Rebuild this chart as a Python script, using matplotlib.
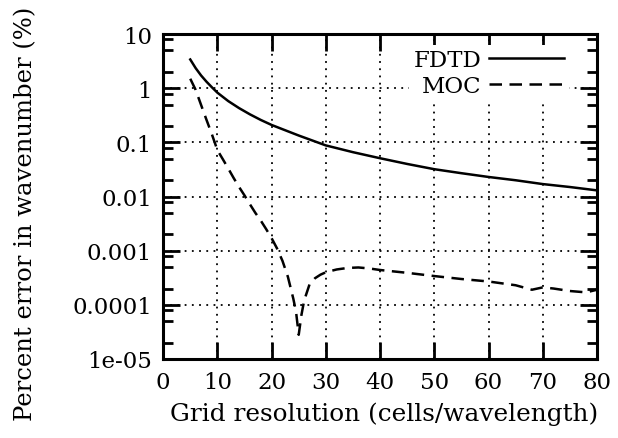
import numpy as np
import matplotlib
matplotlib.use('Agg')
import matplotlib.pyplot as plt
from matplotlib.ticker import LogLocator, NullFormatter, FixedLocator, FixedFormatter

# grid resolution (cells/wavelength) and percent error
fdtd_x = [5, 6, 7, 8, 9, 10, 12, 14, 16, 18, 20, 25, 30, 35, 40, 45, 50, 55, 60, 65, 70, 75, 80]
fdtd_y = [3.4, 2.35, 1.72, 1.32, 1.04, 0.83, 0.58, 0.43, 0.33, 0.26, 0.21, 0.134, 0.088,
          0.066, 0.051, 0.040, 0.032, 0.027, 0.023, 0.020, 0.017, 0.015, 0.013]

moc_x = [5, 6, 7, 8, 9, 10, 11, 12, 13, 14, 15, 16, 17, 18, 19, 20, 21, 22, 23, 24, 24.5,
         25, 25.5, 26, 27, 28, 29, 30, 32, 34, 36, 38, 40, 45, 50, 55, 60, 65, 68, 70,
         72, 75, 78, 80]
moc_y = [1.5, 0.93, 0.49, 0.26, 0.14, 0.072, 0.049, 0.033, 0.022, 0.015, 0.0105, 0.0072,
         0.0050, 0.0036, 0.0025, 0.0017, 0.0011, 0.00065, 0.00033, 0.00013, 7.5e-5,
         2.8e-5, 6.5e-5, 0.00012, 0.00024, 0.00031, 0.00036, 0.00040, 0.00045, 0.00048,
         0.00049, 0.00047, 0.00044, 0.00039, 0.00034, 0.00030, 0.00027, 0.00023, 0.00019,
         0.00021, 0.00020, 0.00018, 0.00017, 0.00019]

xticks = [0, 10, 20, 30, 40, 50, 60, 70, 80]
yticks = [1e-5, 1e-4, 1e-3, 1e-2, 1e-1, 1, 10]
ytick_labels = ['1e-05', '0.0001', '0.001', '0.01', '0.1', '1', '10']

plt.rcParams['font.family'] = ['DejaVu Serif']
plt.rcParams['font.size'] = 16.5

fig = plt.figure(figsize=(6.18, 4.39), dpi=100)
ax = fig.add_axes([0.264, 0.180, 0.702, 0.740])

ax.plot(fdtd_x, fdtd_y, color='black', linewidth=1.8, label='FDTD')
ax.plot(moc_x, moc_y, color='black', linewidth=1.8, linestyle=(0, (5, 3)), label='MOC')

ax.set_yscale('log')
ax.set_xlim(0, 80)
ax.set_ylim(1e-5, 10)

ax.xaxis.set_major_locator(FixedLocator(xticks))
ax.yaxis.set_major_locator(FixedLocator(yticks))
ax.yaxis.set_major_formatter(FixedFormatter(ytick_labels))
ax.yaxis.set_minor_locator(LogLocator(base=10, subs=(2, 5, 8)))
ax.yaxis.set_minor_formatter(NullFormatter())

ax.tick_params(which='major', direction='in', length=12, width=2,
               top=True, right=True, pad=8)
ax.tick_params(which='minor', direction='in', length=7, width=2,
               left=True, right=True)
ax.tick_params(axis='x', pad=9)

for s in ax.spines.values():
    s.set_linewidth(2.2)

ax.grid(True, which='major', color='black', linestyle=(0, (1, 3)), linewidth=1.3)

ax.set_xlabel('Grid resolution (cells/wavelength)', fontsize=17.8, labelpad=8)
ax.set_ylabel('Percent error in wavenumber (%)', fontsize=17.5)
ax.yaxis.set_label_coords(-0.29, 0.45)
ax.xaxis.set_label_coords(0.51, -0.13)

leg = ax.legend(loc='upper right', bbox_to_anchor=(0.935, 0.968), markerfirst=False,
                frameon=True, fancybox=False, edgecolor='none', facecolor='white',
                framealpha=1, handlelength=3.3, handletextpad=0.3, labelspacing=0.15,
                borderpad=0.2, borderaxespad=0)

fig.savefig('out.png', dpi=100)
